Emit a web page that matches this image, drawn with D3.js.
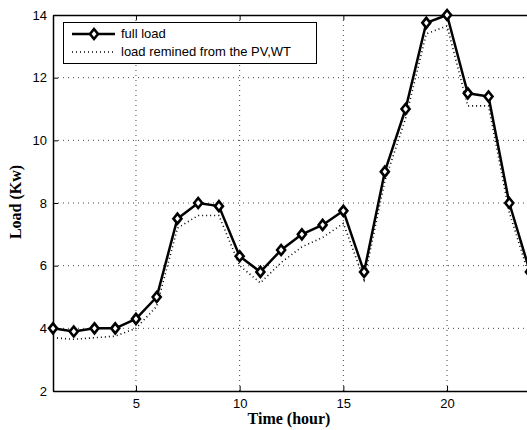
<!DOCTYPE html>
<html>
<head>
<meta charset="utf-8">
<script src="https://cdn.jsdelivr.net/npm/d3@7"></script>
<style>
  body { margin: 0; background: #fff; }
  svg { display: block; }
</style>
</head>
<body>
<script>
// data
var hours = d3.range(1, 25);
var fullLoad = [4.0, 3.9, 4.0, 4.0, 4.3, 5.0, 7.5, 8.0, 7.9, 6.3, 5.8, 6.5,
                7.0, 7.3, 7.75, 5.8, 9.0, 11.0, 13.75, 14.0, 11.5, 11.4, 8.0, 5.8];
var remainLoad = [3.7, 3.65, 3.7, 3.75, 4.0, 4.7, 7.2, 7.6, 7.6, 6.0, 5.45, 6.1,
                  6.6, 6.9, 7.35, 5.55, 8.7, 10.7, 13.4, 13.65, 11.1, 11.1, 7.7, 5.6];
var xTicks = [5, 10, 15, 20];
var yTicks = [2, 4, 6, 8, 10, 12, 14];
var seriesNames = ["full load", "load remined from the PV,WT"];

var svgWidth = 527;
var svgHeight = 430;
var margin = {top: 15, left: 53};
var plotRight = 530;
var plotBottom = 391;

var svg = d3.select("body").append("svg")
  .attr("width", svgWidth)
  .attr("height", svgHeight);

var x = d3.scaleLinear().domain([1, 24]).range([margin.left, plotRight]);
var y = d3.scaleLinear().domain([2, 14]).range([plotBottom, margin.top]);

// grid
var grid = svg.append("g");
grid.selectAll(".vg").data(xTicks).enter().append("line")
  .attr("x1", d => x(d)).attr("x2", d => x(d))
  .attr("y1", margin.top).attr("y2", plotBottom)
  .attr("stroke", "#444").attr("stroke-width", 1)
  .attr("stroke-dasharray", "1,4");
grid.selectAll(".hg").data(yTicks.slice(1, -1)).enter().append("line")
  .attr("x1", margin.left).attr("x2", plotRight)
  .attr("y1", d => y(d)).attr("y2", d => y(d))
  .attr("stroke", "#444").attr("stroke-width", 1)
  .attr("stroke-dasharray", "1,4");

// axes
var bottomAxis = d3.axisBottom(x).tickValues(xTicks).tickSizeInner(-5).tickSizeOuter(0).tickPadding(8);
var leftAxis = d3.axisLeft(y).tickValues(yTicks).tickSizeInner(-5).tickSizeOuter(0).tickPadding(6);
var topAxis = d3.axisTop(x).tickValues(xTicks).tickSizeInner(-5).tickSizeOuter(0).tickFormat("");

var xAxis = svg.append("g")
  .attr("transform", `translate(0, ${plotBottom})`)
  .call(bottomAxis);
var yAxisG = svg.append("g")
  .attr("transform", `translate(${margin.left}, 0)`)
  .call(leftAxis);
var tAxis = svg.append("g")
  .attr("transform", `translate(0, ${margin.top})`)
  .call(topAxis);

[xAxis, yAxisG, tAxis].forEach(function(g) {
  g.select(".domain").attr("stroke", "#000").attr("stroke-width", 1.5);
  g.selectAll(".tick line").attr("stroke", "#000");
  g.selectAll("text")
    .attr("font-family", "Liberation Sans, Arial, sans-serif")
    .attr("font-size", 13)
    .attr("fill", "#000");
});

// lines
var line = d3.line()
  .x((d, i) => x(hours[i]))
  .y(d => y(d));

svg.append("path")
  .datum(remainLoad)
  .attr("d", line)
  .attr("fill", "none")
  .attr("stroke", "#000")
  .attr("stroke-width", 1.6)
  .attr("stroke-dasharray", "1,3");

svg.append("path")
  .datum(fullLoad)
  .attr("d", line)
  .attr("fill", "none")
  .attr("stroke", "#000")
  .attr("stroke-width", 2.5)
  .attr("stroke-linejoin", "round");

var diamond = "M0,-5L4,0L0,5L-4,0Z";
svg.selectAll(".mk").data(fullLoad).enter().append("path")
  .attr("d", diamond)
  .attr("transform", (d, i) => `translate(${x(hours[i])}, ${y(d)})`)
  .attr("fill", "#fff")
  .attr("stroke", "#000")
  .attr("stroke-width", 2.6);

// axis titles
svg.append("text")
  .attr("x", 289).attr("y", 424)
  .attr("text-anchor", "middle")
  .attr("font-family", "Liberation Serif, Times New Roman, serif")
  .attr("font-weight", "bold")
  .attr("font-size", 16)
  .text("Time (hour)");

svg.append("text")
  .attr("transform", "rotate(-90)")
  .attr("x", -202).attr("y", 21)
  .attr("text-anchor", "middle")
  .attr("font-family", "Liberation Serif, Times New Roman, serif")
  .attr("font-weight", "bold")
  .attr("font-size", 16)
  .text("Load (Kw)");

// legend
var legend = svg.append("g");
legend.append("rect")
  .attr("x", 63.5).attr("y", 22.5)
  .attr("width", 253).attr("height", 41)
  .attr("fill", "#fff").attr("stroke", "#000").attr("stroke-width", 1);

legend.append("line")
  .attr("x1", 72).attr("x2", 115).attr("y1", 34).attr("y2", 34)
  .attr("stroke", "#000").attr("stroke-width", 2.5);
legend.append("path")
  .attr("d", diamond)
  .attr("transform", "translate(94, 34)")
  .attr("fill", "#fff").attr("stroke", "#000").attr("stroke-width", 2.6);
legend.append("line")
  .attr("x1", 72).attr("x2", 115).attr("y1", 52).attr("y2", 52)
  .attr("stroke", "#000").attr("stroke-width", 1.6)
  .attr("stroke-dasharray", "1,3");

legend.selectAll(".lt").data(seriesNames).enter().append("text")
  .attr("x", 121)
  .attr("y", (d, i) => 38 + i * 18)
  .attr("font-family", "Liberation Sans, Arial, sans-serif")
  .attr("font-size", 13)
  .text(d => d);
</script>
</body>
</html>
